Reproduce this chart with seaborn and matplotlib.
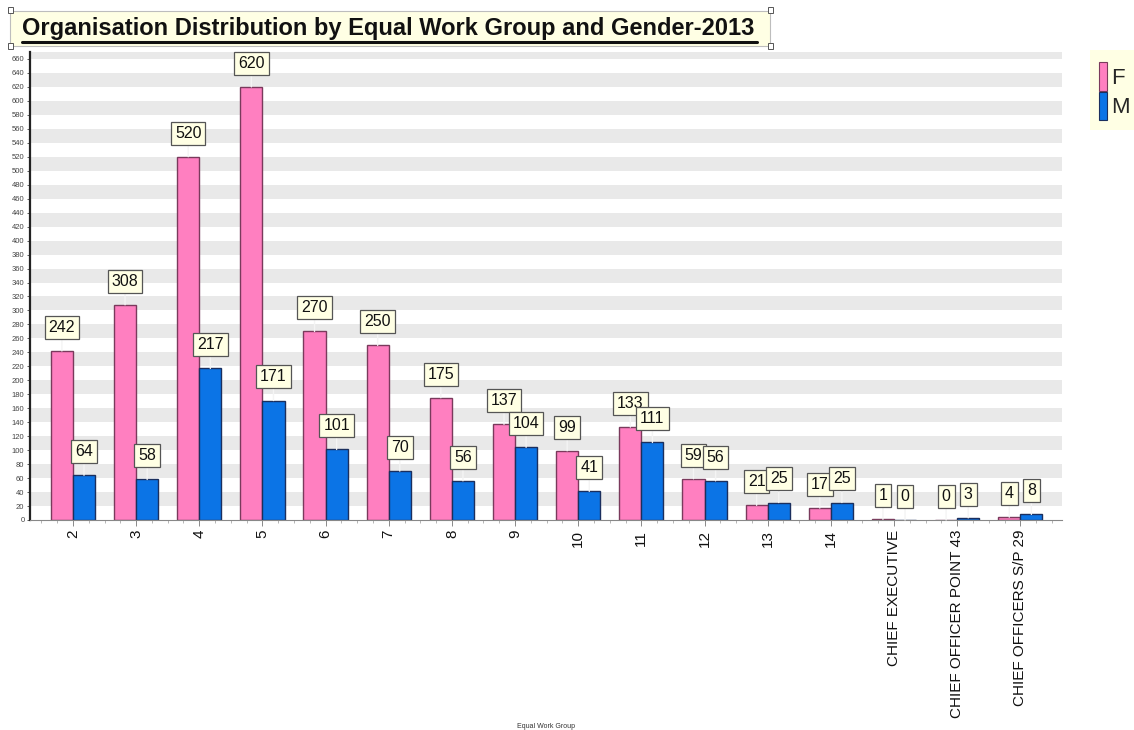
import matplotlib
matplotlib.use("Agg")
import matplotlib.pyplot as plt
from matplotlib.patches import Patch, Rectangle
from matplotlib.ticker import MultipleLocator, FixedLocator
import numpy as np
import pandas as pd
import seaborn as sns

# Staff counts by equal work group and gender, 2013
groups = ["2", "3", "4", "5", "6", "7", "8", "9", "10", "11", "12", "13", "14",
          "CHIEF EXECUTIVE", "CHIEF OFFICER POINT 43", "CHIEF OFFICERS S/P 29"]
female = [242, 308, 520, 620, 270, 250, 175, 137, 99, 133, 59, 21, 17, 1, 0, 4]
male = [64, 58, 217, 171, 101, 70, 56, 104, 41, 111, 56, 25, 25, 0, 3, 8]
genders = ["F", "M"]

title = "Organisation Distribution by Equal Work Group and Gender-2013"
x_title = "Equal Work Group"

pink = "#FF7FC0"
blue = "#0B74E6"
edge_cols = {"F": "#7A3A5C", "M": "#1B2F5E"}
cream = "#FFFFE4"

df = pd.DataFrame({
    "group": groups * 2,
    "gender": ["F"] * len(groups) + ["M"] * len(groups),
    "count": female + male,
})

sns.set_theme(style="white")
plt.rcParams["font.family"] = ["Liberation Sans", "DejaVu Sans"]

fig = plt.figure(figsize=(11.34, 7.30), dpi=100)
ax = fig.add_axes([30 / 1134, 1 - 520 / 730, (1062 - 30) / 1134, (520 - 52) / 730])

# alternating horizontal bands behind the bars
ymax = 670
for lo in range(20, ymax, 40):
    ax.axhspan(lo, min(lo + 20, ymax), color="#E9E9E9", zorder=0, lw=0)

sns.barplot(data=df, x="group", y="count", hue="gender", order=groups,
            hue_order=genders, palette={"F": pink, "M": blue}, saturation=1,
            width=0.7, gap=0, dodge=True, ax=ax, zorder=2,
            linewidth=1.0, legend=False)

values = {"F": female, "M": male}
for g, cont in zip(genders, ax.containers):
    for bar, v in zip(cont, values[g]):
        bar.set_edgecolor(edge_cols[g])
        cx = bar.get_x() + bar.get_width() / 2
        ax.annotate(str(v), xy=(cx, v), xytext=(0, 17), textcoords="offset points",
                    ha="center", va="center", fontsize=11.5, color="#111111",
                    zorder=5,
                    bbox=dict(boxstyle="square,pad=0.25", fc=cream, ec="#555555", lw=0.9),
                    arrowprops=dict(arrowstyle="-", color="#F4F4F4", lw=1.0,
                                    shrinkA=0, shrinkB=0))

ax.set_xlim(-0.68, len(groups) - 1 + 0.66)
ax.set_ylim(0, ymax)

ax.yaxis.set_major_locator(MultipleLocator(20))
ax.tick_params(axis="y", labelsize=5.5, labelcolor="#444444", length=2, width=0.6,
               color="#444444", left=True, pad=2)
ax.xaxis.set_minor_locator(FixedLocator(np.arange(-0.5, len(groups), 0.25)))
ax.tick_params(axis="x", which="major", labelsize=11, labelcolor="#111111",
               rotation=90, length=4, width=0.6, color="#777777", bottom=True, pad=3)
ax.tick_params(axis="x", which="minor", length=2, width=0.5, color="#999999", bottom=True)
for lbl in ax.get_xticklabels():
    lbl.set_va("top")

for side in ["top", "right"]:
    ax.spines[side].set_visible(False)
ax.spines["left"].set_color("#222222")
ax.spines["left"].set_linewidth(1.6)
ax.spines["bottom"].set_color("#888888")
ax.spines["bottom"].set_linewidth(0.8)

ax.set_ylabel("")
ax.set_xlabel("")
fig.text(546 / 1134, 1 - 727 / 730, x_title, ha="center", va="center",
         fontsize=5, color="#333333")

# title panel
fig.patches.append(Rectangle((10 / 1134, 1 - 46 / 730), 760 / 1134, 35 / 730,
                             transform=fig.transFigure, fc=cream, ec="#BDBDBD",
                             lw=0.8, zorder=0))
for hx, hy in [(10, 10), (770, 10), (10, 46), (770, 46)]:
    fig.patches.append(Rectangle(((hx - 2.5) / 1134, 1 - (hy + 2.5) / 730), 5 / 1134, 5 / 730,
                                 transform=fig.transFigure, fc="white", ec="#555555",
                                 lw=0.7, zorder=3))
fig.text(22 / 1134, 1 - 29 / 730, title, ha="left", va="center",
         fontsize=17, fontweight="bold", color="#111111")
fig.lines.append(plt.Line2D([22 / 1134, 757 / 1134], [1 - 41.5 / 730] * 2,
                            transform=fig.transFigure, color="#111111", lw=2.2))

# legend panel
fig.patches.append(Rectangle((1090 / 1134, 1 - 130 / 730), 44 / 1134, 80 / 730,
                             transform=fig.transFigure, fc=cream, ec="none", zorder=0))
handles = [Patch(fc=pink, ec=edge_cols["F"], lw=0.8), Patch(fc=blue, ec=edge_cols["M"], lw=0.8)]
leg = fig.legend(handles, genders, loc="upper left",
                 bbox_to_anchor=(1097 / 1134, 1 - 60 / 730), frameon=False,
                 fontsize=16, handlelength=0.35, handleheight=1.6, handletextpad=0.2,
                 labelspacing=0.05, borderpad=0.1, borderaxespad=0)

fig.savefig("out.png", dpi=100, facecolor="white")
